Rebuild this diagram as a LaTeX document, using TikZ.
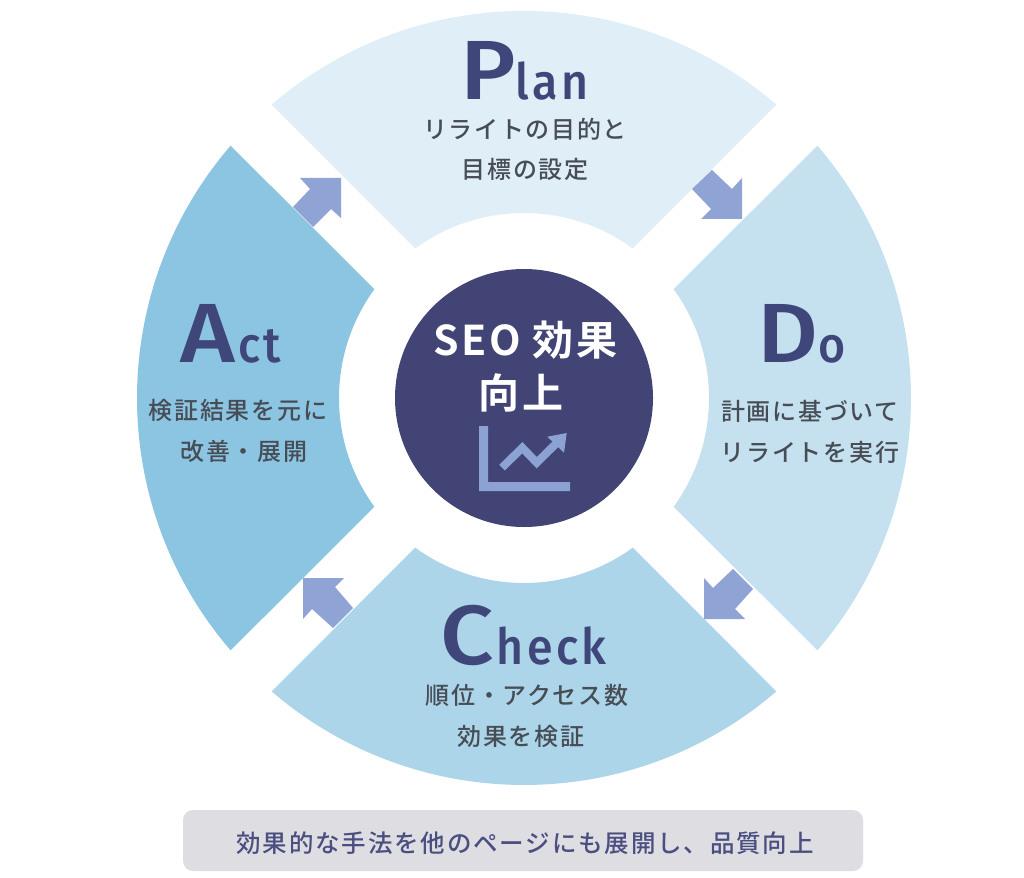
\documentclass[tikz,border=0pt]{standalone}
\usepackage{fontspec}
\newfontfamily\jpfont{Noto Sans CJK JP}[UprightFont=* Medium,BoldFont=* Bold,LetterSpace=7]
\newfontfamily\jpboxfont{Noto Sans CJK JP}[UprightFont=* Medium,LetterSpace=7.5]
\newfontfamily\jpbold{Noto Sans CJK JP}[UprightFont=* Bold,LetterSpace=6]
\newfontfamily\capfont{Fira Sans}[UprightFont=* Medium,FakeStretch=1.12]
\newfontfamily\lowfont{Fira Sans}[UprightFont=* Medium,LetterSpace=7,FakeStretch=0.93]
\definecolor{planc}{HTML}{DFEEF7}
\definecolor{doc}{HTML}{C5E1F0}
\definecolor{checkc}{HTML}{ACD5EA}
\definecolor{actc}{HTML}{8CC5E2}
\definecolor{hubc}{HTML}{414475}
\definecolor{arrowc}{HTML}{8FA3D5}
\definecolor{iconc}{HTML}{8CA2D3}
\definecolor{boxc}{HTML}{DEDEE2}
\definecolor{inkc}{HTML}{474D55}
\definecolor{titlec}{HTML}{3F4679}
\definecolor{notec}{HTML}{4A4E80}
\newcommand{\wordtitle}[3]{{\capfont\fontsize{84}{84}\selectfont #1}\hspace*{#3}{\lowfont\fontsize{50}{50}\selectfont #2}}
\tikzset{
  caption/.style={inner sep=0pt,align=center,text=inkc,font=\jpfont\fontsize{24}{40.5}\selectfont},
  wordnode/.style={inner sep=0pt,anchor=base west,text=titlec},
  blockarrow/.style={fill=arrowc,draw=none},
}
\begin{document}
\begin{tikzpicture}[x=1pt,y=-1pt]
\useasboundingbox (0,0) rectangle (1024,877);
\fill[white] (0,0) rectangle (1024,877);
\begin{scope}[shift={(524,398)},y=1pt]
\foreach \a/\c in {90/planc,0/doc,-90/checkc,180/actc}{
  \fill[\c] (\a-40.7:387pt) arc[start angle=\a-40.7,end angle=\a+40.7,radius=387pt]
     -- (\a+36:185pt) arc[start angle=\a+36,end angle=\a-36,radius=185pt] -- cycle;
}
\end{scope}
% block arrows
\fill[blockarrow] (341,178)--(341,218)--(331,209)--(313,227)--(293,207)--(310,189)--(300,178)--cycle;
\fill[blockarrow] (742,219)--(701,219)--(711,209)--(692,189)--(712,170)--(732,189)--(742,178)--cycle;
\fill[blockarrow] (704,619)--(704,578)--(713,588)--(733,569)--(753,589)--(735,609)--(745,619)--cycle;
\fill[blockarrow] (303,578)--(344,578)--(335,587)--(353,608)--(333,628)--(312,609)--(303,619)--cycle;
% hub
\node[circle,fill=hubc,minimum size=258pt,inner sep=0pt] (hub) at (524,398) {};
\node[inner sep=0pt,text=white,align=center,font=\jpbold\fontsize{41}{53}\selectfont] (hubtext) at (525.5,367) {SEO 効果\\向上\hspace*{9pt}};
% icon
\fill[iconc] (479,426)--(488,426)--(488,482)--(570,482)--(570,491)--(479,491)--cycle;
\draw[iconc,line width=8pt] (502,467.7)--(522.3,447.7)--(536.7,462.7)--(558,441.7);
\fill[iconc] (566.7,433)--(547.3,436.7)--(564,452.7)--cycle;
% titles
\node[wordnode] (plan) at (460,100) {\wordtitle{P}{lan}{0pt}};
\node[wordnode] (do) at (757,362) {\wordtitle{D}{o}{0pt}};
\node[wordnode] (check) at (440,664) {\wordtitle{C}{heck}{3pt}};
\node[wordnode] (act) at (180,362) {\wordtitle{A}{ct}{3pt}};
% captions
\node[caption] (plantext) at (525,149.5) {リライトの目的と\\目標の設定};
\node[caption] (dotext) at (810,432) {計画に基づいて\\リライトを実行};
\node[caption] (checktext) at (527,716) {順位・アクセス数\\効果を検証\hspace*{12pt}};
\node[caption] (acttext) at (238,431) {検証結果を元に\\\hspace*{12pt}改善・展開};
% note
\node[fill=boxc,rounded corners=10pt,minimum width=680pt,minimum height=61pt,inner sep=0pt] (notebox) at (523,840.5) {};
\node[inner sep=0pt,text=notec,font=\jpboxfont\fontsize{24.5}{24.5}\selectfont] (notetext) at (525,843) {効果的な手法を他のページにも展開し、品質向上};
\end{tikzpicture}
\end{document}
